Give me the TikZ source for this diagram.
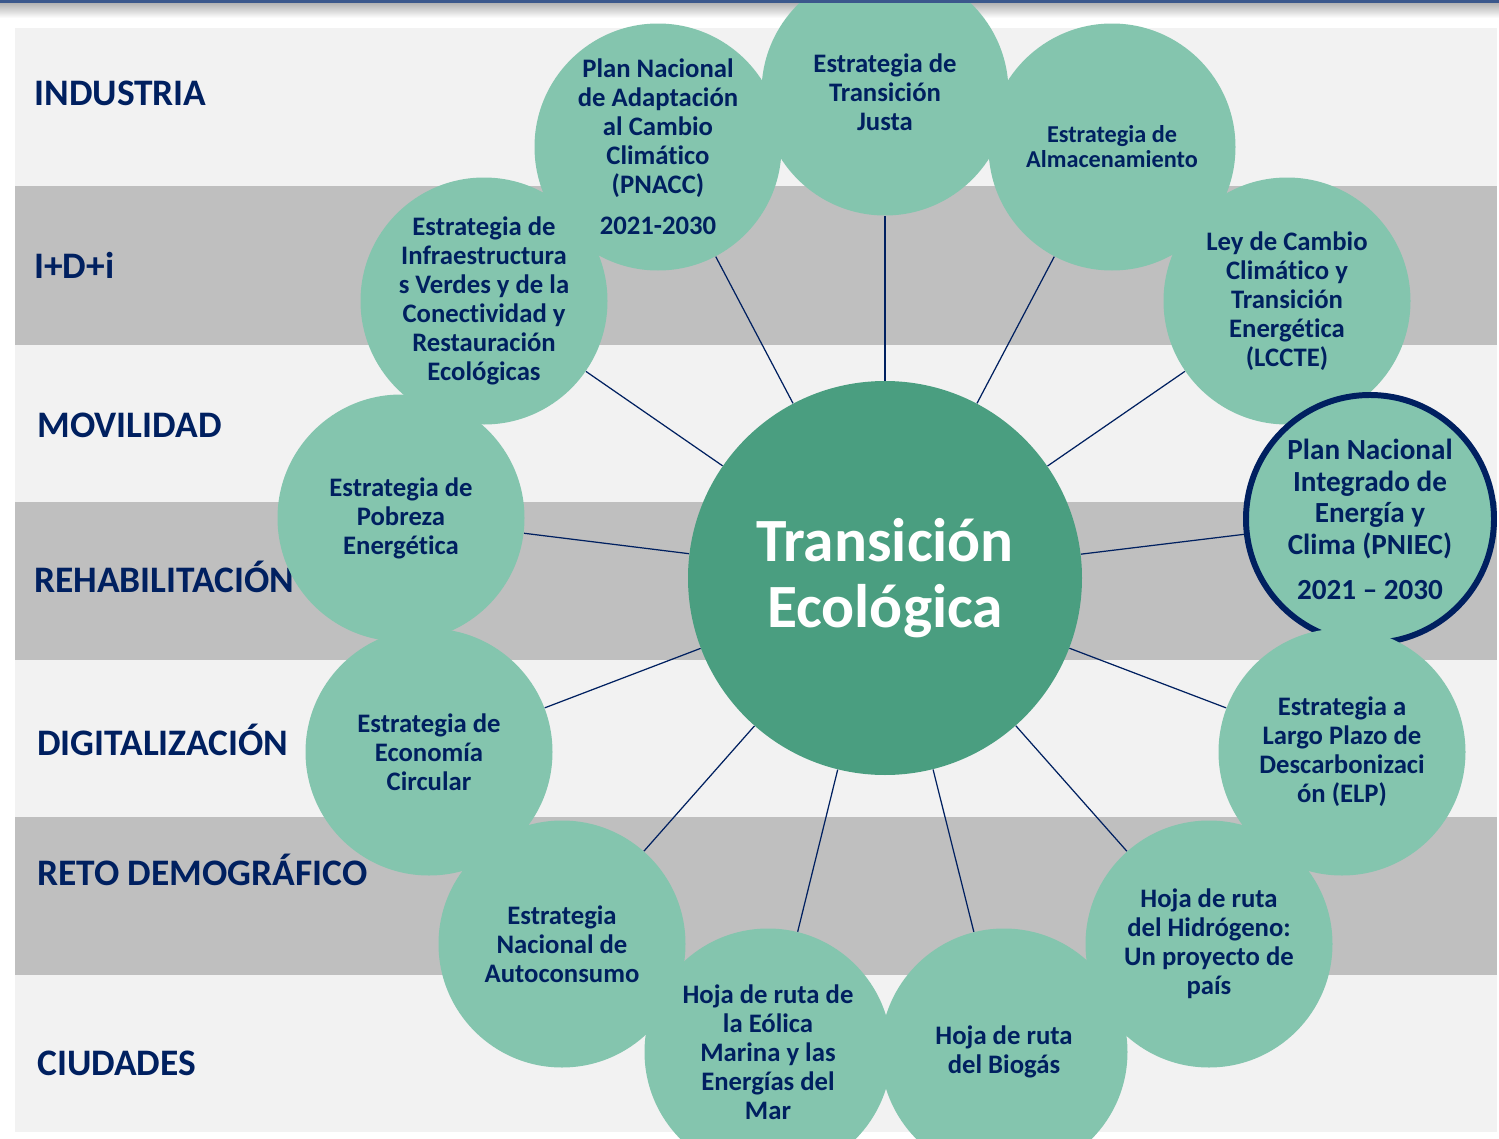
\documentclass[tikz,border=0pt]{standalone}
\usepackage{fontspec}
\setmainfont{Carlito}[Ligatures=NoCommon]
\definecolor{navy}{RGB}{0,32,96}
\definecolor{mint}{RGB}{132,197,174}
\definecolor{jade}{RGB}{74,158,128}
\definecolor{bandlight}{RGB}{242,242,242}
\definecolor{banddark}{RGB}{191,191,191}
\definecolor{topbar}{RGB}{59,88,140}
\pgfdeclarelayer{back}
\pgfdeclarelayer{links}
\pgfsetlayers{back,links,main}

\begin{document}
\begin{tikzpicture}[x=0.02cm, y=0.02cm,
	sector/.style={anchor=base west, inner sep=0pt, text=navy, font=\bfseries\fontsize{21.3}{24}\selectfont},
	plan/.style={circle, fill=mint, minimum size=247*0.02cm, inner sep=0pt, align=center, text=navy, font=\bfseries\fontsize{15.2}{16.5}\selectfont},
	keyplan/.style={plan, draw=navy, line width=3.4pt, minimum size=248*0.02cm, font=\bfseries\fontsize{16.6}{18.2}\selectfont},
	hub/.style={circle, fill=jade, minimum size=394*0.02cm, inner sep=0pt, align=center, text=white, font=\bfseries\fontsize{35}{37.8}\selectfont},
	link/.style={draw=navy, line width=0.7pt}]
			%%%%% START %%%%%
			\useasboundingbox (0,0) rectangle (1499,-1139);
			\clip (0,0) rectangle (1499,-1139);
			
			\begin{pgfonlayer}{back}
			\fill[white] (0,0) rectangle (1499,-1139);
			\shade[top color=black!30, bottom color=white] (0,-3) rectangle (1499,-18);
			\fill[bandlight] (15,-28) rectangle (1497,-186);
			\fill[banddark] (15,-186) rectangle (1497,-345);
			\fill[bandlight] (15,-345) rectangle (1497,-502);
			\fill[banddark] (15,-502) rectangle (1497,-660);
			\fill[bandlight] (15,-660) rectangle (1497,-817);
			\fill[banddark] (15,-817) rectangle (1497,-975);
			\fill[bandlight] (15,-975) rectangle (1497,-1132);
			\end{pgfonlayer}
			
			\node[sector] (industria) at (34,-105) {INDUSTRIA};
			\node[sector] (idi) at (34,-278) {I+D+i};
			\node[sector] (movilidad) at (37,-437) {MOVILIDAD};
			\node[sector] (rehab) at (34,-592) {REHABILITACIÓN};
			\node[sector] (digital) at (37,-755) {DIGITALIZACIÓN};
			\node[sector] (reto) at (37,-885) {RETO DEMOGRÁFICO};
			\node[sector] (ciudades) at (37,-1075) {CIUDADES};
			
			\node[hub] (te) at (885,-578) {Transición\\Ecológica};
			
			\node[plan] (justa) at (885,-92) {Estrategia de\\Transición\\Justa};
			\node[plan, font=\bfseries\fontsize{13.8}{14.2}\selectfont] (almac) at (1112,-147) {Estrategia de\\Almacenamiento};
			\node[plan] (lccte) at (1287,-301) {Ley de Cambio\\Climático y\\Transición\\Energética\\(LCCTE)};
			\node[keyplan] (pniec) at (1370,-519) {Plan Nacional\\Integrado de\\Energía y\\Clima (PNIEC)\\[7pt]2021 -- 2030};
			\node[plan] (elp) at (1342,-752) {Estrategia a\\Largo Plazo de\\Descarbonizaci\\ón (ELP)};
			\node[plan] (hidro) at (1209,-944) {Hoja de ruta\\del Hidrógeno:\\Un proyecto de\\país};
			\node[plan] (biogas) at (1004,-1052) {Hoja de ruta\\del Biogás};
			\node[plan] (eolica) at (768,-1052) {Hoja de ruta de\\la Eólica\\Marina y las\\Energías del\\Mar};
			\node[plan] (autoc) at (562,-944) {Estrategia\\Nacional de\\Autoconsumo};
			\node[plan] (circular) at (429,-752) {Estrategia de\\Economía\\Circular};
			\node[plan] (pobreza) at (401,-518) {Estrategia de\\Pobreza\\Energética};
			\node[plan] (infra) at (484,-301) {Estrategia de\\Infraestructura\\s Verdes y de la\\Conectividad y\\Restauración\\Ecológicas};
			\node[plan] (pnacc) at (658,-147) {Plan Nacional\\de Adaptación\\al Cambio\\Climático\\(PNACC)\\[7pt]2021-2030};
			
			\begin{pgfonlayer}{links}
			\draw[link] (te) -- (justa);
			\draw[link] (te) -- (almac);
			\draw[link] (te) -- (lccte);
			\draw[link] (te) -- (pniec);
			\draw[link] (te) -- (elp);
			\draw[link] (te) -- (hidro);
			\draw[link] (te) -- (biogas);
			\draw[link] (te) -- (eolica);
			\draw[link] (te) -- (autoc);
			\draw[link] (te) -- (circular);
			\draw[link] (te) -- (pobreza);
			\draw[link] (te) -- (infra);
			\draw[link] (te) -- (pnacc);
			\end{pgfonlayer}
			
			\fill[topbar] (0,0) rectangle (1499,-3);
			%%%%% END %%%%%
\end{tikzpicture}
\end{document}
